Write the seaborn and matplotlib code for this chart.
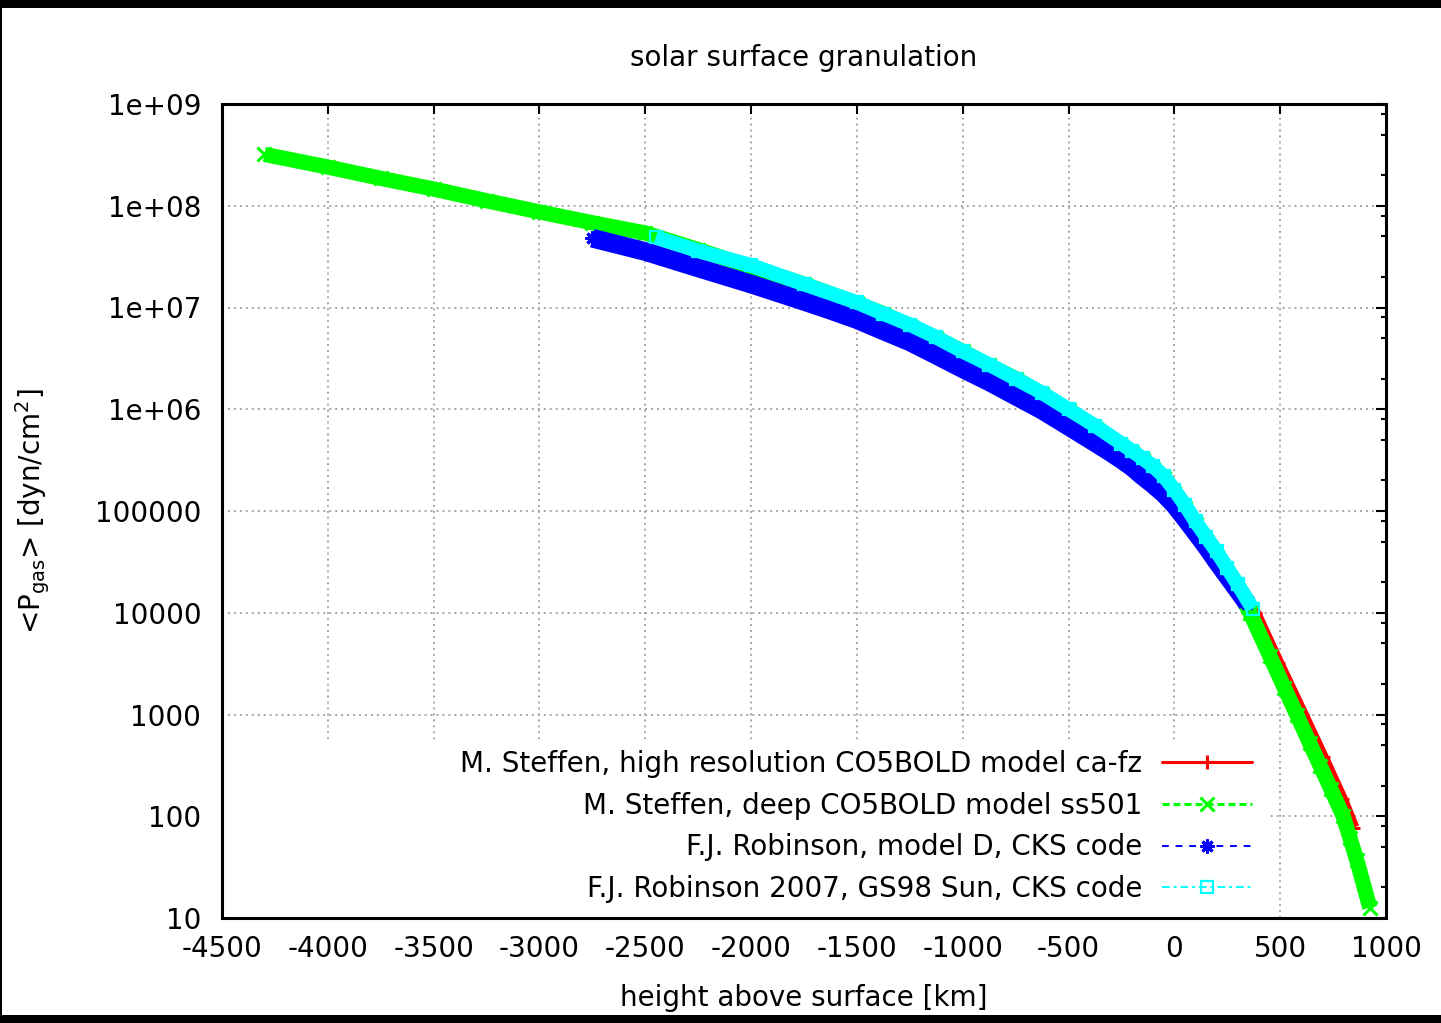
import matplotlib
matplotlib.use("Agg")
import matplotlib.pyplot as plt
import seaborn as sns
from matplotlib.patches import Rectangle
from matplotlib.ticker import FixedLocator, FixedFormatter, NullFormatter

# ---------------- data ----------------
red_x = [-100, -50, 0, 50, 100, 150, 200, 250, 300, 380, 490, 605, 700, 790, 845]
red_p = [2.6e5, 2.1e5, 1.48e5, 1.05e5, 7.4e4, 5.1e4, 3.5e4, 2.45e4, 1.74e4,
         1.0e4, 3.2e3, 1.0e3, 380, 148, 77]

green_x = [-4300, -4000, -3750, -3500, -3250, -3000, -2750, -2500, -2250, -2000,
           -1750, -1500, -1375, -1250, -1125, -1000, -875, -750, -625, -500, -375,
           -250, -200, -150, -100, -50, 0, 50, 100, 150, 200, 250, 300,
           357, 450, 520, 578, 640, 690, 740, 798, 830, 862, 924]
green_p = [3.2e8, 2.4e8, 1.86e8, 1.46e8, 1.12e8, 8.7e7, 6.8e7, 5.4e7, 3.7e7, 2.5e7,
           1.7e7, 1.1e7, 8.7e6, 6.6e6, 5.0e6, 3.7e6, 2.7e6, 2.0e6, 1.42e6, 9.8e5, 6.6e5,
           4.4e5, 3.7e5, 3.2e5, 2.6e5, 2.1e5, 1.5e5, 1.07e5, 7.4e4, 5.1e4, 3.5e4, 2.45e4, 1.66e4,
           1.0e4, 3.8e3, 1.82e3, 1.0e3, 5.2e2, 310, 184, 100, 61, 37, 12.6]

blue_x = [-2750, -2500, -2250, -2000, -1750, -1625, -1500, -1375, -1250, -1125, -1000,
          -875, -750, -625, -500, -375, -300, -250, -200, -150, -100, -50, 0,
          50, 100, 150, 200, 250, 300, 345]
blue_p = [4.8e7, 3.55e7, 2.45e7, 1.7e7, 1.15e7, 9.4e6, 7.6e6, 5.9e6, 4.6e6, 3.4e6, 2.5e6,
          1.86e6, 1.35e6, 9.8e5, 6.8e5, 4.7e5, 3.75e5, 3.2e5, 2.7e5, 2.2e5, 1.82e5,
          1.48e5, 1.15e5, 8.5e4, 6.2e4, 4.5e4, 3.2e4, 2.3e4, 1.66e4, 1.23e4]

cyan_x = [-2450, -2250, -2000, -1750, -1500, -1375, -1250, -1125, -1000, -875,
          -750, -625, -500, -375, -250, -200, -150, -100, -50, 0, 50, 100, 150,
          200, 250, 300, 370]
cyan_p = [4.9e7, 3.6e7, 2.6e7, 1.7e7, 1.12e7, 8.7e6, 6.8e6, 5.1e6, 3.7e6, 2.75e6,
          2.0e6, 1.45e6, 1.0e6, 6.9e5, 4.6e5, 3.9e5, 3.3e5, 2.75e5, 2.2e5, 1.62e5,
          1.15e5, 7.9e4, 5.6e4, 4.0e4, 2.75e4, 1.9e4, 1.1e4]

labels = ["M. Steffen, high resolution CO5BOLD model ca-fz",
          "M. Steffen, deep CO5BOLD model ss501",
          "F.J. Robinson, model D, CKS code",
          "F.J. Robinson 2007, GS98 Sun, CKS code"]

x_ticks = [-4500, -4000, -3500, -3000, -2500, -2000, -1500, -1000, -500, 0, 500, 1000]
x_ticklabels = ["-4500", "-4000", "-3500", "-3000", "-2500", "-2000", "-1500",
                "-1000", "-500", "0", "500", "1000"]
y_ticks = [1e1, 1e2, 1e3, 1e4, 1e5, 1e6, 1e7, 1e8, 1e9]
y_ticklabels = ["10", "100", "1000", "10000", "100000", "1e+06", "1e+07", "1e+08", "1e+09"]
y_minor = [m * 10.0 ** e for e in range(1, 9) for m in (2, 5, 8)]

title = "solar surface granulation"
xlabel = "height above surface [km]"
ylabel = r"<P$_{\mathregular{gas}}$> [dyn/cm$^{\mathregular{2}}$]"

# ---------------- style ----------------
sns.set_style("white")
plt.rcParams['font.family'] = ['DejaVu Sans']
plt.rcParams['mathtext.fontset'] = 'dejavusans'
for k in ("text.color", "axes.labelcolor", "xtick.color", "ytick.color"):
    plt.rcParams[k] = "black"
FS = 20

W, H = 1441, 1023
fig = plt.figure(figsize=(W / 100, H / 100), dpi=100)
fig.patch.set_facecolor("white")
ax = fig.add_axes([222 / W, 1 - 918 / H, 1164 / W, 814 / H])
ax.set_yscale("log")

series = [
    dict(x=red_x, y=red_p, c="#ff0000", band=9.0, marker="+", ms=9.5, mew=2.2,
         ls="-", lw=2.2, mfc="#ff0000"),
    dict(x=green_x, y=green_p, c="#00ff00", band=11.0, marker="x", ms=10, mew=2.2,
         ls=(0, (2.3, 1.3)), lw=2.2, mfc="#00ff00"),
    dict(x=blue_x, y=blue_p, c="#0000ff", band=13.5, marker=(8, 2, 0), ms=10, mew=2.2,
         ls=(0, (3.5, 3.5)), lw=1.4, mfc="#0000ff"),
    dict(x=cyan_x, y=cyan_p, c="#00ffff", band=10.5, marker="s", ms=8, mew=1.6,
         ls=(0, (4, 2, 1.5, 2)), lw=1.4, mfc="none"),
]

handles = []
for s, lab in zip(series, labels):
    # the reference points overlap into a solid ribbon
    sns.lineplot(x=s["x"], y=s["y"], ax=ax, color=s["c"], linewidth=s["band"],
                 linestyle="-", solid_capstyle="butt", solid_joinstyle="round",
                 estimator=None, errorbar=None, sort=False, legend=False, zorder=3)
    sns.lineplot(x=s["x"], y=s["y"], ax=ax, color=s["c"], linewidth=s["lw"],
                 linestyle=s["ls"], marker=s["marker"], markersize=s["ms"],
                 markeredgewidth=s["mew"], markeredgecolor=s["c"],
                 markerfacecolor=s["mfc"], estimator=None, errorbar=None,
                 sort=False, label=lab, zorder=3)
    handles.append(ax.get_lines()[-1])

# axes ranges, ticks
ax.set_xlim(-4500, 1000)
ax.set_ylim(10, 1e9)
ax.xaxis.set_major_locator(FixedLocator(x_ticks))
ax.xaxis.set_major_formatter(FixedFormatter(x_ticklabels))
ax.yaxis.set_major_locator(FixedLocator(y_ticks))
ax.yaxis.set_major_formatter(FixedFormatter(y_ticklabels))
ax.yaxis.set_minor_locator(FixedLocator(y_minor))
ax.yaxis.set_minor_formatter(NullFormatter())
ax.xaxis.set_minor_locator(FixedLocator([]))

ax.tick_params(axis="both", which="major", direction="in", length=7.2, width=1.5,
               top=True, right=True, labelsize=FS, color="black", labelcolor="black")
ax.tick_params(axis="both", which="minor", direction="in", length=3.6, width=1.5,
               top=True, right=True, color="black")
ax.tick_params(axis="x", which="major", pad=12)
ax.tick_params(axis="y", which="major", pad=15)

for sp in ax.spines.values():
    sp.set_visible(True)
    sp.set_linewidth(2.2)
    sp.set_color("black")
    sp.set_zorder(5)

ax.set_axisbelow(True)
ax.grid(True, which="major", color="#a0a0a0", linestyle=(0, (1.1, 2.2)), linewidth=1.3)

# opaque key area (gnuplot key hides the grid)
ax.add_patch(Rectangle((0, 0), (1268 - 222) / 1164, (918 - 740) / 814,
                       transform=ax.transAxes, facecolor="white",
                       edgecolor="none", zorder=1))

leg = ax.legend(handles, labels, loc="lower right",
                bbox_to_anchor=((1252 - 222) / 1164, (918 - 903) / 814),
                markerfirst=False, frameon=False, fontsize=FS,
                handlelength=3.24, handletextpad=0.72, labelspacing=0.49,
                borderaxespad=0, borderpad=0)
leg.set_zorder(6)

ax.set_title(title, fontsize=FS, pad=27, color="black")
ax.set_xlabel(xlabel, fontsize=FS)
ax.set_ylabel(ylabel, fontsize=FS)
ax.xaxis.set_label_coords(0.5, (918 - 984) / 814)
ax.yaxis.set_label_coords((52 - 222) / 1164, 0.5)

# black frame pieces of the original screenshot
fig.add_artist(Rectangle((0, 1 - 8 / H), 1, 8 / H, transform=fig.transFigure,
                         facecolor="black", edgecolor="none"))
fig.add_artist(Rectangle((0, 0), 1, 8 / H, transform=fig.transFigure,
                         facecolor="black", edgecolor="none"))
fig.add_artist(Rectangle((0, 0), 2 / W, 1, transform=fig.transFigure,
                         facecolor="black", edgecolor="none"))

fig.savefig("out.png", dpi=100)
